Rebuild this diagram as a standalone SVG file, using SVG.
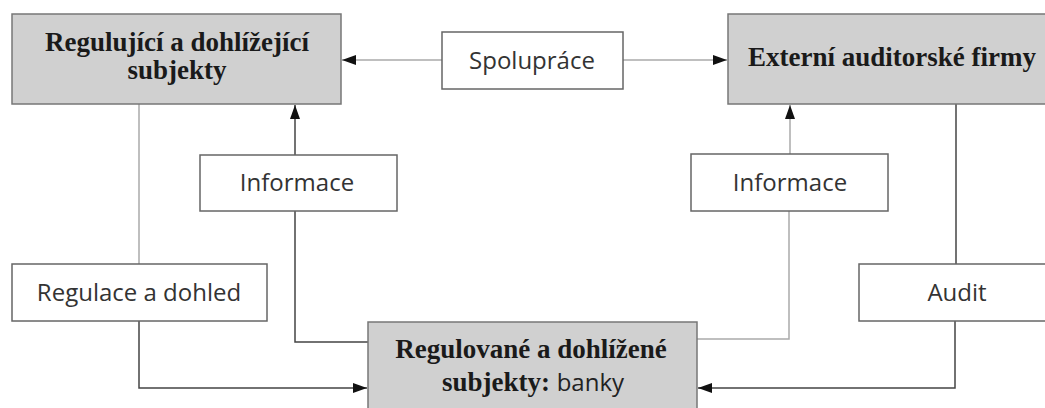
<svg xmlns="http://www.w3.org/2000/svg" width="1045" height="408" viewBox="0 0 1045 408">
<style>
.main rect{fill:#d0d0d0;stroke:#777;stroke-width:1.5}
.lab rect{fill:#fff;stroke:#666;stroke-width:1.5}
.ser{font-family:"Liberation Serif",serif;font-weight:bold;font-size:27px;fill:#1a1a1a}
.sans{font-family:"Open Sans","Noto Sans",sans-serif;font-size:24px;fill:#333}
.m{text-anchor:middle}
.c{fill:none;stroke-width:1.5}
.g{stroke:#aaa}
.d{stroke:#444}
</style>
<defs>
<marker id="ah" viewBox="0 0 14 10" refX="14" refY="5" markerWidth="14" markerHeight="10" markerUnits="userSpaceOnUse" orient="auto">
<path d="M0,0 L14,5 L0,10 z" fill="#111"/>
</marker>
</defs>
<g id="connectors">
<path class="c g" d="M442,60 H342" marker-end="url(#ah)"/>
<path class="c g" d="M623,60 H727" marker-end="url(#ah)"/>
<path class="c g" d="M139,104 V264"/>
<path class="c d" d="M139,321 V388 H367" marker-end="url(#ah)"/>
<path class="c d" d="M295,155 V105" marker-end="url(#ah)"/>
<path class="c d" d="M295,211 V342 H368"/>
<path class="c g" d="M790,154 V105" marker-end="url(#ah)"/>
<path class="c g" d="M789,211 V339 H697"/>
<path class="c d" d="M956,104 V264"/>
<path class="c d" d="M955,321 V388 H698" marker-end="url(#ah)"/>
</g>
<g id="reg" class="main">
<rect x="12" y="14" width="329" height="90"/>
<text class="ser m" x="177" y="51">Regulující a dohlížející</text>
<text class="ser m" x="177" y="79">subjekty</text>
</g>
<g id="ext" class="main">
<rect x="728" y="14" width="330" height="90"/>
<text class="ser m" x="892" y="66">Externí auditorské firmy</text>
</g>
<g id="banky" class="main">
<rect x="368" y="322" width="329" height="100"/>
<text class="ser m" x="531" y="358">Regulované a dohlížené</text>
<text class="m" x="533" y="391"><tspan class="ser">subjekty: </tspan><tspan class="sans" style="fill:#222">banky</tspan></text>
</g>
<g id="spoluprace" class="lab">
<rect x="442" y="32" width="181" height="57"/>
<text class="sans m" x="532" y="69">Spolupráce</text>
</g>
<g id="info1" class="lab">
<rect x="200" y="155" width="197" height="56"/>
<text class="sans m" x="297" y="191">Informace</text>
</g>
<g id="info2" class="lab">
<rect x="691" y="154" width="197" height="57"/>
<text class="sans m" x="790" y="191">Informace</text>
</g>
<g id="regdoh" class="lab">
<rect x="12" y="264" width="255" height="57"/>
<text class="sans m" x="139" y="301">Regulace a dohled</text>
</g>
<g id="audit" class="lab">
<rect x="859" y="264" width="200" height="57"/>
<text class="sans m" x="957" y="301">Audit</text>
</g>
</svg>
